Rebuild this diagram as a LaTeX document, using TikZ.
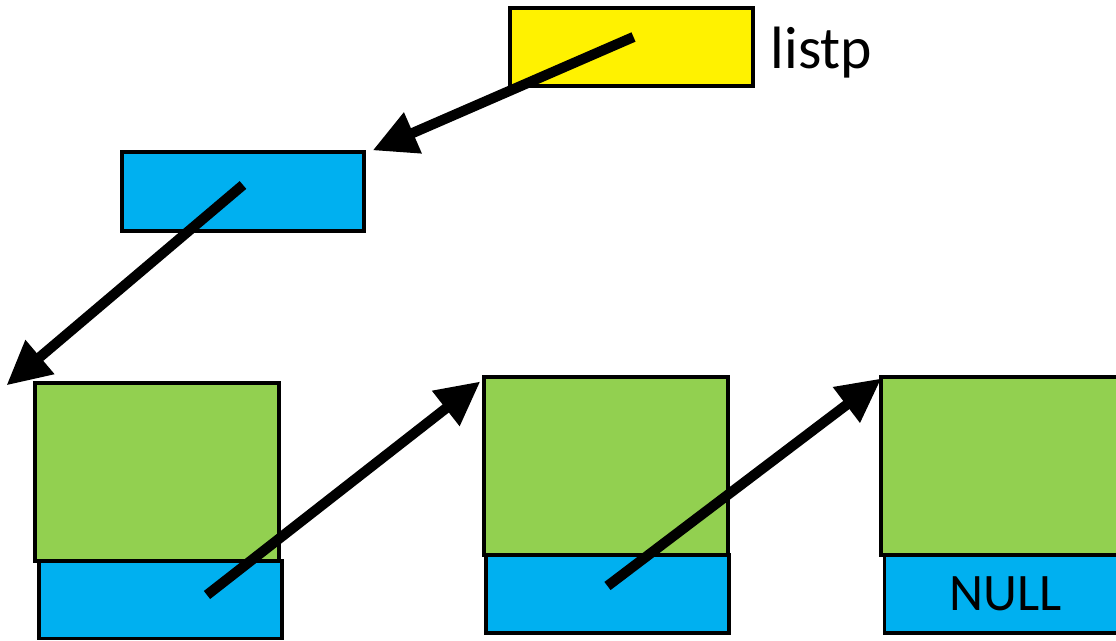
\documentclass[tikz,border=0pt]{standalone}
\usepackage{xcolor}
\usepackage{fontspec}
\setmainfont{Carlito}
\usepackage{tikz}
\usetikzlibrary{arrows.meta}

\definecolor{ptrblue}{HTML}{00B0F0}
\definecolor{datagreen}{HTML}{92D050}

\begin{document}
\begin{tikzpicture}[
  box/.style={draw=black,line width=0.9pt,inner sep=0pt},
  ptr/.style={box,fill=ptrblue,minimum width=2.43cm,minimum height=0.78cm},
  data/.style={box,fill=datagreen,minimum width=2.44cm,minimum height=1.78cm},
  link/.style={line width=2.9pt,-{Triangle[length=0.44cm,width=0.42cm]}}]
\useasboundingbox (0,0) rectangle (11.16,-6.41);
% the pointer variable and the head
\node[box,fill=yellow,minimum width=2.43cm,minimum height=0.78cm] (listp) at (6.315,-0.47) {};
  \node[anchor=west,inner sep=0pt,font=\fontsize{17}{20}\selectfont] (name) at (7.70,-0.53) {listp};
  \node[ptr,minimum width=2.42cm,minimum height=0.79cm] (head) at (2.43,-1.915) {};
% the three list cells
  \node[ptr] (next1) at (1.605,-5.995) {};
  \node[data] (cell1) at (1.57,-4.72) {};
  \node[ptr] (next2) at (6.075,-5.94) {};
  \node[data] (cell2) at (6.06,-4.66) {};
  \node[ptr] (next3) at (10.06,-5.94) {\fontsize{15}{18}\selectfont NULL};
  \node[data] (cell3) at (10.03,-4.66) {};
% where the arrows start
  \coordinate (s0) at ([shift={(0.02,0.10)}]listp.center);
  \coordinate (s1) at ([yshift=0.065cm]head.center);
  \coordinate (s2) at ([shift={(0.465,0.045)}]next1.center);
  \coordinate (s3) at ([yshift=0.08cm]next2.center);
  \draw[link] (s0) -- ([xshift=0.07cm]head.north east);
  \draw[link] (s1) -- ([shift={(-0.27,-0.04)}]cell1.north west);
  \draw[link] (s2) -- ([shift={(-0.02,-0.06)}]cell2.north west);
  \draw[link] (s3) -- ([shift={(0.02,-0.03)}]cell3.north west);
\end{tikzpicture}
\end{document}
